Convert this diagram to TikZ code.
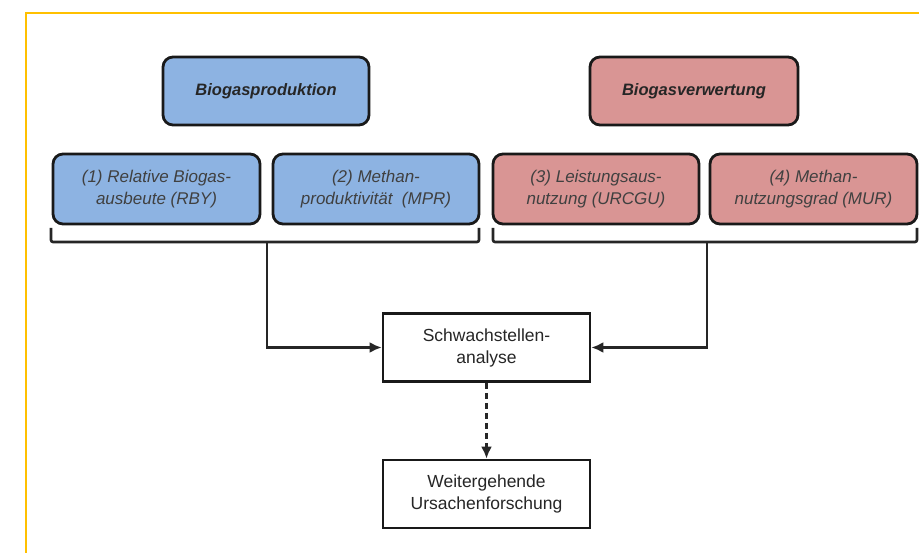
\documentclass[tikz,border=0pt]{standalone}
\usepackage{fontspec}
\setmainfont{Liberation Sans}
\usetikzlibrary{arrows.meta}
\definecolor{frameyellow}{HTML}{FFC000}
\definecolor{prodblue}{HTML}{8DB3E2}
\definecolor{usered}{HTML}{D99594}
\definecolor{txtgray}{HTML}{404040}
\begin{document}
\begin{tikzpicture}[x=1pt,y=-1pt,
  catbox/.style={draw=black!90,line width=2.8pt,rounded corners=10pt,minimum width=206pt,minimum height=68pt,inner sep=0pt,font=\fontsize{16.5}{20}\selectfont\bfseries\itshape,text=black!85,align=center},
  subbox/.style={draw=black!90,line width=2.8pt,rounded corners=10pt,minimum width=206pt,minimum height=70pt,inner sep=0pt,font=\fontsize{17}{22}\selectfont\itshape,text=txtgray,align=center},
  plainbox/.style={draw=black!90,line width=2.8pt,minimum width=207pt,minimum height=68pt,inner sep=0pt,font=\fontsize{17.5}{22}\selectfont,text=black!85,align=center},
  brack/.style={draw=black!85,line width=2.6pt,rounded corners=2pt},
  conn/.style={draw=black!85,line width=2.2pt,-{Latex[length=12pt,width=11pt]}}
]
\useasboundingbox (0,0) rectangle (919,553);
\fill[white] (0,0) rectangle (919,553);
% frame
\draw[frameyellow,line width=1.8pt] (26,553) -- (26,13) -- (919,13);
% top category boxes
\node[catbox,fill=prodblue] (prod) at (266,91) {Biogasproduktion};
\node[catbox,fill=usered,minimum width=208pt] (verw) at (694,91) {Biogasverwertung};
% indicator boxes
\node[subbox,fill=prodblue,minimum width=207pt] (rby) at (156.5,189) {(1) Relative Biogas-\\ausbeute (RBY)};
\node[subbox,fill=prodblue] (mpr) at (376,189) {(2) Methan-\\produktivität~ (MPR)};
\node[subbox,fill=usered] (urc) at (596,189) {(3) Leistungsaus-\\nutzung (URCGU)};
\node[subbox,fill=usered,minimum width=207pt] (mur) at (813.5,189) {(4) Methan-\\nutzungsgrad (MUR)};
% brackets
\coordinate (bl) at (267,242);
\coordinate (br) at (707,242);
\draw[brack] (51,228) -- (51,242) -- (479,242) -- (479,228);
\draw[brack] (493,228) -- (493,242) -- (917,242) -- (917,228);
% analysis boxes
\node[plainbox] (schw) at (486.5,347.5) {Schwachstellen-\\analyse};
\node[plainbox] (weit) at (486.5,494) {Weitergehende\\Ursachenforschung};
% connectors
\draw[conn] (bl) |- (schw.west);
\draw[conn] (br) |- (schw.east);
\draw[conn,dash pattern=on 6pt off 4pt] (schw.south) -- (weit.north);
\end{tikzpicture}
\end{document}
